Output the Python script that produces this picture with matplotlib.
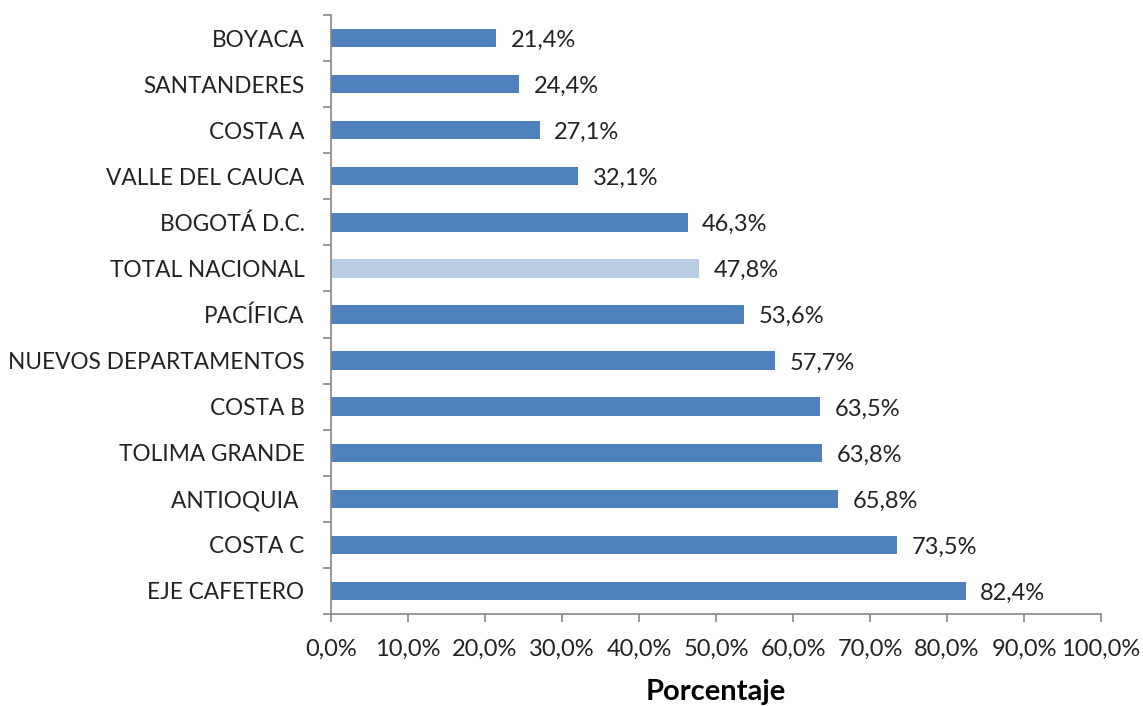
import numpy as np
import matplotlib.pyplot as plt
from matplotlib.ticker import FixedLocator, FuncFormatter

regions = [
    "BOYACA", "SANTANDERES", "COSTA A", "VALLE DEL CAUCA", "BOGOTÁ D.C.",
    "TOTAL NACIONAL", "PACÍFICA", "NUEVOS DEPARTAMENTOS", "COSTA B",
    "TOLIMA GRANDE", "ANTIOQUIA ", "COSTA C", "EJE CAFETERO",
]
values = [21.4, 24.4, 27.1, 32.1, 46.3, 47.8, 53.6, 57.7, 63.5, 63.8, 65.8, 73.5, 82.4]
highlight = "TOTAL NACIONAL"

plt.rcParams["font.family"] = ["Lato", "DejaVu Sans"]

fig = plt.figure(figsize=(11.43, 7.06), dpi=100)
ax = fig.add_axes([0.2896, 0.1303, 0.6737, 0.8485])

y = np.arange(len(regions))
colors = ["#B9CDE5" if r == highlight else "#4F81BD" for r in regions]
ax.barh(y, values, height=0.4, color=colors)

for yi, v in zip(y, values):
    ax.text(v + 1.9, yi + 0.05, f"{v:.1f}%".replace(".", ","), va="center",
            ha="left", fontsize=17, color="#222222")

ax.set_ylim(len(regions) - 0.5, -0.5)
ax.set_xlim(0, 100)
ax.set_yticks(y)
ax.set_yticklabels(regions, fontsize=16.3, color="#222222")
ax.yaxis.set_minor_locator(FixedLocator(np.arange(-0.5, len(regions), 1)))
ax.tick_params(axis="y", which="major", length=0, pad=19)
ax.tick_params(axis="y", which="minor", length=6, color="#868686", width=1.2)

ax.set_xticks(np.arange(0, 101, 10))
ax.xaxis.set_major_formatter(FuncFormatter(lambda v, p: f"{v:.1f}%".replace(".", ",")))
ax.tick_params(axis="x", length=6, color="#868686", width=1.2, labelsize=17,
               labelcolor="#222222", pad=12)

for s in ["top", "right"]:
    ax.spines[s].set_visible(False)
for s in ["left", "bottom"]:
    ax.spines[s].set_color("#868686")
    ax.spines[s].set_linewidth(1.2)

ax.set_xlabel("Porcentaje", fontsize=21, fontweight="bold", labelpad=14)

fig.savefig("out.png", dpi=100)
